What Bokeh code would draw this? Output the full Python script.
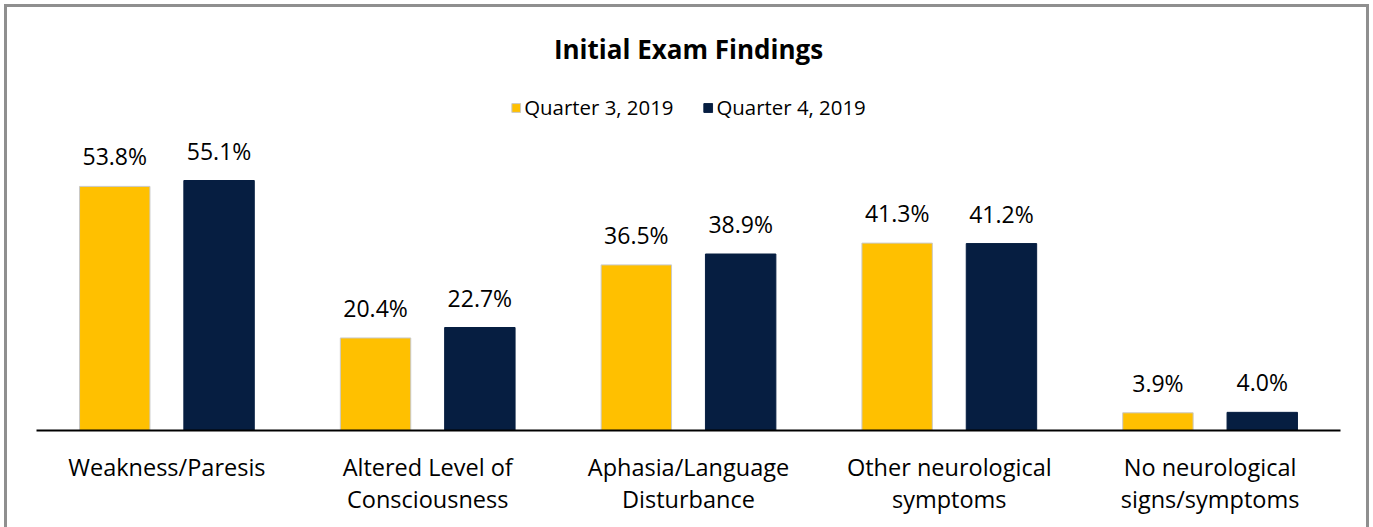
from bokeh.plotting import figure
from bokeh.models import ColumnDataSource, Legend, LegendItem, Range1d, FactorRange
from bokeh.transform import dodge
from bokeh.core.properties import value
from bokeh.embed import file_html
from bokeh.resources import INLINE

categories = ["Weakness/Paresis", "Altered Level of\nConsciousness", "Aphasia/Language\nDisturbance",
              "Other neurological\nsymptoms", "No neurological\nsigns/symptoms"]
q3_2019 = [53.8, 20.4, 36.5, 41.3, 3.9]
q4_2019 = [55.1, 22.7, 38.9, 41.2, 4.0]
series_names = ["Quarter 3, 2019", "Quarter 4, 2019"]

FONT = "Open Sans"
YELLOW = "#FFC000"
NAVY = "#061E41"

src = ColumnDataSource(dict(
    cat=categories, q3=q3_2019, q4=q4_2019,
    q3_lbl=[f"{v:.1f}%" for v in q3_2019],
    q4_lbl=[f"{v:.1f}%" for v in q4_2019],
))

p = figure(x_range=FactorRange(*categories), y_range=Range1d(0, 76.7),
           width=1373, height=527, output_backend="svg", toolbar_location=None,
           min_border_left=36, min_border_right=33, min_border_top=82, min_border_bottom=97)
p.border_fill_alpha = 0
p.styles = {"box-shadow": "inset 4px 4px 0 0 #ffffff, inset -4px 0 0 0 #ffffff, "
                          "inset 7px 7px 0 0 #8f8f8f, inset -7px 0 0 0 #8f8f8f"}

r3 = p.vbar(x=dodge("cat", -0.2, range=p.x_range), top="q3", width=0.27, source=src,
            fill_color=YELLOW, line_color="#c9c9c9", line_width=1)
r4 = p.vbar(x=dodge("cat", 0.2, range=p.x_range), top="q4", width=0.27, source=src,
            fill_color=NAVY, line_color=NAVY, line_width=1)

for off, col, top in [(-0.2, "q3_lbl", "q3"), (0.2, "q4_lbl", "q4")]:
    p.text(x=dodge("cat", off, range=p.x_range), y=top, text=col, source=src,
           text_align="center", text_baseline="middle", y_offset=-30,
           text_font=value(FONT), text_font_size="23px", text_color="#000000")

p.title.text = "Initial Exam Findings"
p.title.align = "center"
p.title.text_font = FONT
p.title.text_font_size = "26px"
p.title.text_font_style = "bold"
p.title.text_color = "#000000"
p.title.standoff = 32

legend = Legend(items=[LegendItem(label=series_names[0], renderers=[r3]),
                       LegendItem(label=series_names[1], renderers=[r4])],
                location="top_center", orientation="horizontal")
legend.label_text_font = FONT
legend.label_text_font_size = "20.4px"
legend.label_text_color = "#000000"
legend.glyph_width = 11
legend.glyph_height = 11
legend.label_standoff = 3
legend.spacing = 29
legend.padding = 0
legend.margin = 11
legend.border_line_color = None
legend.background_fill_alpha = 0
p.add_layout(legend)

p.yaxis.visible = False
p.xgrid.visible = False
p.ygrid.visible = False
p.outline_line_color = None
p.xaxis.axis_line_color = "#000000"
p.xaxis.axis_line_width = 2
p.xaxis.major_tick_line_color = None
p.xaxis.minor_tick_line_color = None
p.xaxis.major_label_text_font = FONT
p.xaxis.major_label_text_font_size = "23.5px"
p.xaxis.major_label_text_color = "#000000"
p.xaxis.major_label_standoff = 14
p.xaxis.major_label_text_line_height = 1.02
p.x_range.range_padding = 0
p.x_range.group_padding = 0

open("out.html", "w").write(file_html(p, INLINE))
